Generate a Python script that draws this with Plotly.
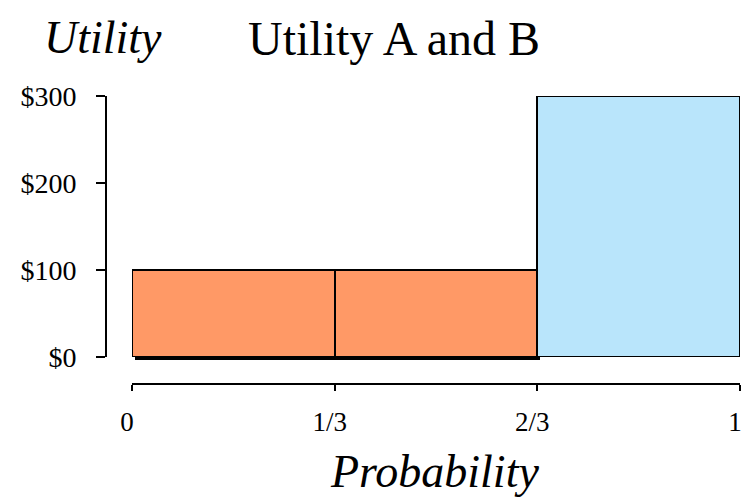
import plotly.graph_objects as go

# Probability intervals (edges) and the utility paid over each interval
prob_edges = [0, 1/3, 2/3, 1]
utility = [100, 100, 300]
bar_colors = ["#FF9966", "#FF9966", "#B9E5FB"]
has_shadow = [True, True, False]

x_tickvals = [0, 1/3, 2/3, 1]
x_ticktext = ["0", "1/3", "2/3", "1"]
y_tickvals = [0, 100, 200, 300]
y_ticktext = ["$0", "$100", "$200", "$300"]

SERIF = "Liberation Serif, Times New Roman, serif"

lefts = prob_edges[:-1]
widths = [b - a for a, b in zip(prob_edges[:-1], prob_edges[1:])]

W, H = 742, 497
ML, MR, MT, MB = 106, 0, 96, 113
PW, PH = W - ML - MR, H - MT - MB
X0, X1 = 132, 740      # pixel span of the probability axis
SHADOW = 3             # drop-shadow offset, px


def px_x(p):
    return (p - ML) / PW


def px_y(p):
    return (H - MB - p) / PH


fig = go.Figure()

# drop shadow under the orange bars (drawn on its own, slightly shifted subplot)
sx = [l for l, s in zip(lefts, has_shadow) if s]
sw = [w for w, s in zip(widths, has_shadow) if s]
sy = [u for u, s in zip(utility, has_shadow) if s]
fig.add_trace(go.Bar(
    x=sx, y=sy, width=sw, offset=0,
    marker=dict(color="black", line=dict(width=0)),
    xaxis="x", yaxis="y", hoverinfo="skip",
))

# the bars themselves
fig.add_trace(go.Bar(
    x=lefts, y=utility, width=widths, offset=0,
    marker=dict(color=bar_colors, line=dict(color="black", width=2)),
    xaxis="x2", yaxis="y2", hoverinfo="skip",
))

hidden = dict(showgrid=False, zeroline=False, showline=False,
              showticklabels=False, ticks="", automargin=False)

shadow_right = W
fig.update_layout(
    width=W, height=H,
    margin=dict(l=ML, r=MR, t=MT, b=MB, pad=0, autoexpand=False),
    plot_bgcolor="rgba(0,0,0,0)", paper_bgcolor="white",
    showlegend=False,
    bargap=0,
    font=dict(family=SERIF, color="black", size=28),
    xaxis=dict(domain=[px_x(X0 + SHADOW), px_x(shadow_right)],
               range=[0, (shadow_right - X0 - SHADOW) / (X1 - X0)],
               anchor="y", **hidden),
    yaxis=dict(domain=[px_y(357 + SHADOW), px_y(96 + SHADOW)],
               range=[0, 300], anchor="x", **hidden),
    xaxis2=dict(
        domain=[px_x(X0), px_x(X1)],
        range=[0, 1],
        anchor="free", position=0,
        automargin=False,
        showgrid=False, zeroline=False,
        showline=True, linecolor="black", linewidth=2,
        ticks="outside", ticklen=6, tickwidth=2, tickcolor="black",
        tickvals=x_tickvals, ticktext=x_ticktext,
        tickfont=dict(family=SERIF, size=27, color="black"),
        ticklabelstandoff=8,
        ticklabelshift=-5,
        ticklabeloverflow="allow",
    ),
    yaxis2=dict(
        domain=[px_y(357), 1],
        range=[0, 300],
        anchor="free", position=0,
        automargin=False,
        showgrid=False, zeroline=False,
        showline=True, linecolor="black", linewidth=2,
        ticks="outside", ticklen=9, tickwidth=2, tickcolor="black",
        tickvals=y_tickvals, ticktext=y_ticktext,
        tickfont=dict(family=SERIF, size=28, color="black"),
        ticklabelstandoff=14,
    ),
    annotations=[
        dict(text="Utility A and B", x=px_x(393.5), y=px_y(38.5),
             xref="paper", yref="paper", xanchor="center", yanchor="middle",
             showarrow=False, font=dict(family=SERIF, size=48, color="black")),
        dict(text="<i>Utility</i>", x=px_x(103), y=px_y(37.5),
             xref="paper", yref="paper", xanchor="center", yanchor="middle",
             showarrow=False, font=dict(family=SERIF, size=46, color="black")),
        dict(text="<i>Probability</i>", x=px_x(434), y=px_y(471.5),
             xref="paper", yref="paper", xanchor="center", yanchor="middle",
             showarrow=False, font=dict(family=SERIF, size=46, color="black")),
    ],
)

fig.write_html("out.html")
